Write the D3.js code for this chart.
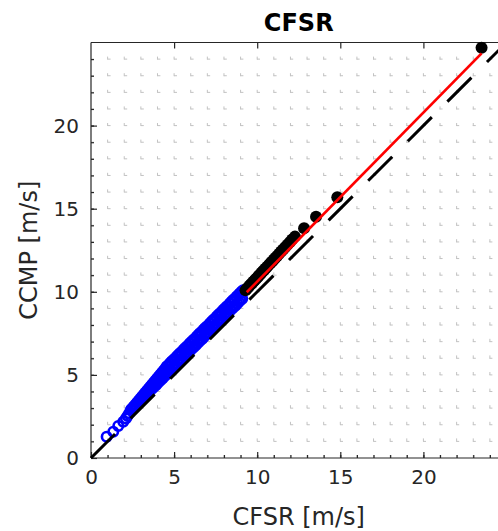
<!DOCTYPE html>
<html>
<head>
<meta charset="utf-8">
<script src="https://cdn.jsdelivr.net/npm/d3@7"></script>
<style>
  body { margin: 0; background: #fff; }
  text { font-family: "DejaVu Sans", sans-serif; fill: #262626; }
</style>
</head>
<body>
<svg></svg>
<script>
var width = 498;
var height = 531;

// quantile points below ~10 m/s (open blue circles): sparse start, lower edge, upper edge of the band
var blueX = [0.94, 1.34, 1.64, 1.94, 2.1, 2.2, 2.3,
             2.4, 2.5, 2.6, 2.7, 2.8, 2.9, 3.0, 3.1, 3.2, 3.3, 3.4, 3.5, 3.6, 3.7, 3.8, 3.9, 4.0, 4.1, 4.2, 4.3,
             4.4, 4.5, 4.6, 4.7, 4.8, 4.9, 5.0, 5.1, 5.2, 5.3, 5.4, 5.5, 5.6, 5.7, 5.8, 5.9, 6.0, 6.1, 6.2, 6.3,
             6.4, 6.5, 6.6, 6.7, 6.8, 6.9, 7.0, 7.1, 7.2, 7.3, 7.4, 7.5, 7.6, 7.7, 7.8, 7.9, 8.0, 8.1, 8.2, 8.3,
             8.4, 8.5, 8.6, 8.7, 8.8, 8.9, 9.0, 9.1,
             2.45, 2.55, 2.65, 2.75, 2.85, 2.95, 3.05, 3.15, 3.25, 3.35, 3.45, 3.55, 3.65, 3.75, 3.85, 3.95, 4.05,
             4.15, 4.25, 4.35, 4.45, 4.55, 4.65, 4.75, 4.85, 4.95, 5.05, 5.15, 5.25, 5.35, 5.45, 5.55, 5.65, 5.75,
             5.85, 5.95, 6.05, 6.15, 6.25, 6.35, 6.45, 6.55, 6.65, 6.75, 6.85, 6.95, 7.05, 7.15, 7.25, 7.35, 7.45,
             7.55, 7.65, 7.75, 7.85, 7.95, 8.05, 8.15, 8.25, 8.35, 8.45, 8.55, 8.65, 8.75, 8.85, 8.95, 9.05, 9.15];
var blueY = [1.28, 1.58, 1.93, 2.18, 2.38, 2.52, 2.7,
             2.9, 3.0, 3.1, 3.18, 3.3, 3.4, 3.5, 3.58, 3.7, 3.8, 3.9, 3.98, 4.1, 4.2, 4.3, 4.38, 4.5, 4.6, 4.7, 4.78,
             4.9, 5.0, 5.1, 5.18, 5.3, 5.4, 5.5, 5.58, 5.7, 5.8, 5.9, 5.98, 6.1, 6.2, 6.3, 6.38, 6.5, 6.6, 6.7, 6.78,
             6.9, 7.0, 7.1, 7.18, 7.3, 7.4, 7.5, 7.58, 7.7, 7.8, 7.9, 7.98, 8.1, 8.2, 8.3, 8.38, 8.5, 8.6, 8.7, 8.78,
             8.9, 9.0, 9.1, 9.18, 9.3, 9.4, 9.5, 9.58,
             2.95, 3.07, 3.19, 3.31, 3.43, 3.55, 3.67, 3.79, 3.91, 4.03, 4.15, 4.27, 4.39, 4.51, 4.63, 4.75, 4.87,
             4.99, 5.11, 5.23, 5.35, 5.5, 5.58, 5.7, 5.8, 5.9, 5.98, 6.1, 6.2, 6.3, 6.38, 6.5, 6.6, 6.7,
             6.78, 6.9, 7.0, 7.1, 7.18, 7.3, 7.4, 7.5, 7.58, 7.7, 7.8, 7.9, 7.98, 8.1, 8.2, 8.3, 8.38,
             8.5, 8.6, 8.7, 8.78, 8.9, 9.0, 9.1, 9.18, 9.3, 9.4, 9.5, 9.58, 9.7, 9.8, 9.9, 10.0, 10.1];

// upper quantiles (filled black circles)
var blackX = [9.3, 9.38, 9.46, 9.54, 9.62, 9.7, 9.78, 9.86, 9.94, 10.02, 10.1, 10.18, 10.26, 10.34, 10.42, 10.5,
              10.6, 10.7, 10.8, 10.9, 11.0, 11.1, 11.2, 11.32, 11.44, 11.56, 11.68, 11.82, 11.96, 12.1,
              12.27, 12.82, 13.54, 14.82, 23.5];
var blackY = [10.1, 10.19, 10.27, 10.36, 10.45, 10.53, 10.62, 10.71, 10.79, 10.88, 10.97, 11.05, 11.14, 11.23, 11.31, 11.4,
              11.51, 11.62, 11.73, 11.83, 11.94, 12.05, 12.16, 12.29, 12.42, 12.55, 12.68, 12.83, 12.98, 13.14,
              13.32, 13.82, 14.52, 15.69, 24.69];

// linear fit of the upper part
var fitSlope = 1.0176;
var fitIntercept = 0.434;
var fitRange = [9.37, 23.5];

var ticks = [0, 5, 10, 15, 20];
var minorTicks = d3.range(1, 25);

var x = d3.scaleLinear().domain([0, 25]).range([91, 506.5]);
var y = d3.scaleLinear().domain([0, 25]).range([458, 42.5]);

var svg = d3.select("svg")
    .attr("width", width)
    .attr("height", height);

// dotted grid, one line per unit
var grid = svg.append("g")
    .attr("stroke", "#c2c2c2")
    .attr("stroke-width", 1)
    .attr("stroke-dasharray", "3,13.6");

grid.selectAll(".gx")
    .data(minorTicks)
    .enter()
    .append("line")
        .attr("x1", d => x(d)).attr("x2", d => x(d))
        .attr("y1", y(0)).attr("y2", y(25));

grid.selectAll(".gy")
    .data(minorTicks)
    .enter()
    .append("line")
        .attr("y1", d => y(d)).attr("y2", d => y(d))
        .attr("x1", x(0)).attr("x2", x(25));

// axes box with inward ticks
var axisColor = "#262626";

svg.append("g")
    .attr("transform", "translate(0," + y(0) + ")")
    .call(d3.axisBottom(x).tickValues(minorTicks).tickSize(-3).tickFormat(""))
    .call(g => g.select(".domain").remove());

svg.append("g")
    .attr("transform", "translate(0," + y(0) + ")")
    .call(d3.axisBottom(x).tickValues(ticks).tickSize(-6).tickPadding(12))
    .call(g => g.select(".domain").attr("d", "M" + x(0) + ",0H" + x(25)));

svg.append("g")
    .attr("transform", "translate(" + x(0) + ",0)")
    .call(d3.axisLeft(y).tickValues(minorTicks).tickSize(-3).tickFormat(""))
    .call(g => g.select(".domain").remove());

svg.append("g")
    .attr("transform", "translate(" + x(0) + ",0)")
    .call(d3.axisLeft(y).tickValues(ticks).tickSize(-6).tickPadding(12))
    .call(g => g.select(".domain").attr("d", "M0," + y(0) + "V" + y(25)));

svg.append("g")
    .attr("transform", "translate(0," + y(25) + ")")
    .call(d3.axisTop(x).tickValues(ticks.slice(1)).tickSize(-6).tickFormat(""))
    .call(g => g.select(".domain").attr("d", "M" + x(0) + ",0H" + x(25)));

svg.selectAll(".domain, .tick line")
    .attr("stroke", axisColor)
    .attr("stroke-width", 1.2);

svg.selectAll(".tick text")
    .attr("font-size", 20)
    .attr("font-family", "DejaVu Sans")
    .attr("fill", axisColor);

// blue open circles
svg.append("g")
    .selectAll("circle")
    .data(blueX)
    .enter()
    .append("circle")
        .attr("cx", d => x(d))
        .attr("cy", (d, i) => y(blueY[i]))
        .attr("r", 4.7)
        .attr("fill", "none")
        .attr("stroke", "#0000ff")
        .attr("stroke-width", 2.6);

// black filled circles
svg.append("g")
    .selectAll("circle")
    .data(blackX)
    .enter()
    .append("circle")
        .attr("cx", d => x(d))
        .attr("cy", (d, i) => y(blackY[i]))
        .attr("r", 6)
        .attr("fill", "#000");

// red fit line
svg.append("line")
    .attr("x1", x(fitRange[0])).attr("y1", y(fitSlope * fitRange[0] + fitIntercept))
    .attr("x2", x(fitRange[1])).attr("y2", y(fitSlope * fitRange[1] + fitIntercept))
    .attr("stroke", "#ff0000")
    .attr("stroke-width", 2.7);

// 1:1 dashed line
svg.append("line")
    .attr("x1", x(0)).attr("y1", y(0))
    .attr("x2", x(25)).attr("y2", y(25))
    .attr("stroke", "#000")
    .attr("stroke-width", 3)
    .attr("stroke-dasharray", "34,22");

// title and labels
svg.append("text")
    .attr("x", (x(0) + x(25)) / 2)
    .attr("y", 31)
    .attr("text-anchor", "middle")
    .attr("font-size", 24)
    .attr("font-weight", "bold")
    .style("fill", "#000")
    .text("CFSR");

svg.append("text")
    .attr("x", (x(0) + x(25)) / 2)
    .attr("y", 525)
    .attr("text-anchor", "middle")
    .attr("font-size", 24)
    .text("CFSR [m/s]");

svg.append("text")
    .attr("transform", "translate(37," + (y(0) + y(25)) / 2 + ") rotate(-90)")
    .attr("text-anchor", "middle")
    .attr("font-size", 24)
    .text("CCMP [m/s]");
</script>
</body>
</html>
